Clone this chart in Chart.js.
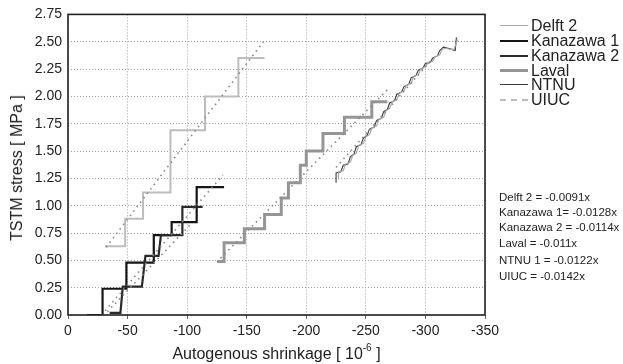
<!DOCTYPE html>
<html><head><meta charset="utf-8">
<script src="https://cdn.jsdelivr.net/npm/chart.js@4.4.1/dist/chart.umd.min.js"></script>
<style>
html,body{margin:0;padding:0;background:#fff;}
#wrap{position:relative;width:623px;height:364px;font-family:"Liberation Sans",Arial,sans-serif;color:#222;}
canvas{position:absolute;left:0;top:0;}
.leg{position:absolute;left:500px;font-size:16px;line-height:16px;white-space:nowrap;}
.leg span.sw{position:absolute;left:0;width:28px;}
.leg span.tx{position:absolute;left:31px;top:-8px;}
.eq{position:absolute;left:499px;font-size:11.5px;line-height:12px;white-space:nowrap;}
#xt{position:absolute;left:0;width:553px;text-align:center;top:344px;font-size:16px;}
#xt sup{font-size:10px;position:relative;top:-2px;}
#yt{position:absolute;left:17px;top:168px;transform:translate(-50%,-50%) rotate(-90deg);font-size:16px;white-space:nowrap;}
</style></head>
<body><div id="wrap"><canvas id="c" width="623" height="364"></canvas>
<div id="xt">Autogenous shrinkage [ 10<sup>-6</sup> ]</div>
<div id="yt">TSTM stress [ MPa ]</div>
<div id="legend"></div>
<div id="eqs"></div>
</div>
<script>
// ---- data ----
const xTicks = [0,-50,-100,-150,-200,-250,-300,-350];
const yTicks = [0,0.25,0.5,0.75,1,1.25,1.5,1.75,2,2.25,2.5,2.75];

const delftX = [-227,-227,-231,-233,-237,-239,-242,-244,-248,-250,-253,-255,-259,-261,-265,-267,-270,-272,-276,-278,-282,-284,-288,-290,-294,-296,-300,-302,-306,-308,-312,-314,-317,-321,-324,-327];
const delftY = [1.24,1.31,1.32,1.38,1.40,1.46,1.48,1.55,1.57,1.63,1.65,1.71,1.73,1.79,1.81,1.87,1.89,1.95,1.97,2.03,2.05,2.10,2.12,2.18,2.20,2.25,2.27,2.31,2.32,2.36,2.38,2.43,2.44,2.43,2.43,2.52];

const kan1X = [-16,-29,-29,-49,-49,-72,-72,-87,-87,-108,-108,-131];
const kan1Y = [0,0,0.24,0.24,0.48,0.48,0.73,0.73,0.85,0.85,1.17,1.17];

const kan2X = [-35,-44,-46,-62,-65,-76,-78,-96,-96,-113];
const kan2Y = [0.02,0.02,0.26,0.26,0.54,0.54,0.73,0.73,0.99,0.99];

const lavalX = [-125,-131,-131,-148,-148,-165,-165,-179,-179,-185,-185,-195,-195,-200,-200,-214,-214,-232,-232,-255,-255,-268];
const lavalY = [0.49,0.49,0.66,0.66,0.79,0.79,0.92,0.92,1.07,1.07,1.21,1.21,1.37,1.37,1.50,1.50,1.66,1.66,1.81,1.81,1.95,1.95];

const ntnuX = [-225,-225,-229,-231,-235,-237,-240,-242,-246,-248,-251,-253,-257,-259,-263,-265,-268,-270,-274,-276,-280,-282,-286,-288,-292,-294,-298,-300,-304,-306,-310,-312,-315,-319,-322,-325,-326];
const ntnuY = [1.21,1.30,1.31,1.37,1.38,1.45,1.47,1.54,1.56,1.62,1.64,1.70,1.72,1.78,1.80,1.86,1.88,1.94,1.96,2.02,2.04,2.09,2.11,2.17,2.19,2.24,2.26,2.30,2.31,2.35,2.37,2.42,2.45,2.44,2.43,2.42,2.54];

const uiucX = [-31,-48,-48,-63,-63,-86,-86,-115,-115,-143,-143,-165];
const uiucY = [0.63,0.63,0.88,0.88,1.12,1.12,1.69,1.69,2.00,2.00,2.35,2.35];

// trend lines (endpoints)
const trendUiucX = [-32,-164],  trendUiucY = [0.62,2.50];
const trendKan1X = [-28,-130],  trendKan1Y = [0.00,1.28];
const trendKan2X = [-33,-103],  trendKan2Y = [0.03,0.83];
const trendLavalX = [-128,-268], trendLavalY = [0.52,2.06];
const trendNtnuX = [-225,-305], trendNtnuY = [1.35,2.33];

const legendNames = ["Delft 2","Kanazawa 1","Kanazawa 2","Laval","NTNU","UIUC"];
const equations = ["Delft 2 = -0.0091x","Kanazawa 1= -0.0128x","Kanazawa 2 = -0.0114x","Laval = -0.011x","NTNU 1 = -0.0122x","UIUC = -0.0142x"];

// ---- build ----
const pts = (xs, ys) => xs.map((x,i)=>({x:x,y:ys[i]}));
const styles = {
  "Delft 2":   {c:"#a8a8a8", w:1.2},
  "Kanazawa 1":{c:"#151515", w:2.2},
  "Kanazawa 2":{c:"#2a2a2a", w:2.2},
  "Laval":     {c:"#959595", w:3},
  "NTNU":      {c:"#3a3a3a", w:1.1},
  "UIUC":      {c:"#bdbdbd", w:2}
};
function ser(name, xs, ys){ const s=styles[name]; return {label:name, data:pts(xs,ys), showLine:true, borderColor:s.c, borderWidth:s.w, pointRadius:0, fill:false, tension:0}; }
function trend(xs, ys){ return {label:"trend", data:pts(xs,ys), showLine:true, borderColor:"#8c8c8c", borderWidth:1.6, borderDash:[1.6,4], pointRadius:0, fill:false}; }

const datasets = [
  trend(trendUiucX,trendUiucY), trend(trendKan1X,trendKan1Y), trend(trendKan2X,trendKan2Y),
  trend(trendLavalX,trendLavalY), trend(trendNtnuX,trendNtnuY),
  ser("UIUC",uiucX,uiucY), ser("Laval",lavalX,lavalY), ser("Delft 2",delftX,delftY),
  ser("NTNU",ntnuX,ntnuY), ser("Kanazawa 2",kan2X,kan2Y), ser("Kanazawa 1",kan1X,kan1Y)
];

const frame = {id:"frame", afterDatasetsDraw(ch){ const a=ch.chartArea, g=ch.ctx; g.save(); g.strokeStyle="#222"; g.lineWidth=1.6; g.strokeRect(a.left,a.top,a.right-a.left,a.bottom-a.top); g.restore(); }};

new Chart(document.getElementById("c"), {
  type:"scatter",
  data:{datasets:datasets},
  options:{
    responsive:false, animation:false,
    layout:{padding:{left:0,right:138,top:13,bottom:0}},
    plugins:{legend:{display:false}, tooltip:{enabled:false}},
    scales:{
      x:{type:"linear", min:-350, max:0, reverse:true,
        afterFit(s){s.height=49;},
        afterBuildTicks(s){s.ticks=xTicks.map(v=>({value:v}));},
        ticks:{font:{family:"Liberation Sans",size:14}, color:"#222", padding:4, callback:v=>String(v)},
        grid:{color:"#a0a0a0", tickLength:4, tickColor:"#666", tickBorderDash:[0,0], lineWidth:1},
        border:{display:false, dash:[1,2]}},
      y:{type:"linear", min:0, max:2.75,
        afterFit(s){s.width=68;},
        afterBuildTicks(s){s.ticks=yTicks.map(v=>({value:v}));},
        ticks:{font:{family:"Liberation Sans",size:14}, color:"#222", padding:6, callback:v=>Number(v).toFixed(2)},
        grid:{color:"#a0a0a0", drawTicks:false, lineWidth:1},
        border:{display:false, dash:[1,2]}}
    }
  },
  plugins:[frame]
});

// legend
const legTop = [26,41,56,70.5,85,99.5];
const lg = document.getElementById("legend");
legendNames.forEach((n,i)=>{
  const s = styles[n];
  const d = document.createElement("div"); d.className="leg"; d.style.top=legTop[i]+"px";
  const sw = document.createElement("span"); sw.className="sw";
  sw.style.top=(-s.w/2)+"px"; sw.style.borderTop=s.w+"px "+(n==="UIUC"?"dashed":"solid")+" "+s.c;
  const tx = document.createElement("span"); tx.className="tx"; tx.textContent=n;
  d.appendChild(sw); d.appendChild(tx); lg.appendChild(d);
});
const eqTop = [191,206,221,237,254,270];
const eq = document.getElementById("eqs");
equations.forEach((t,i)=>{ const d=document.createElement("div"); d.className="eq"; d.style.top=eqTop[i]+"px"; d.textContent=t; eq.appendChild(d); });
</script>
</body></html>
